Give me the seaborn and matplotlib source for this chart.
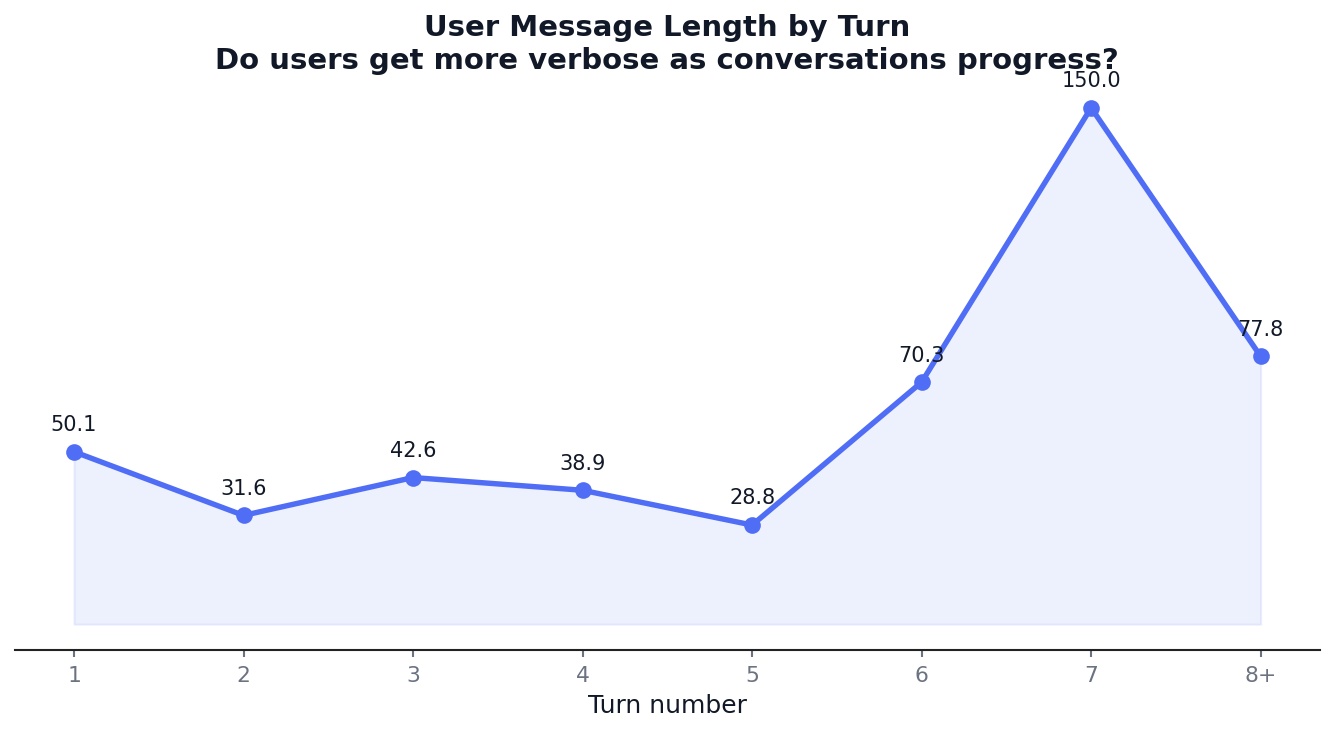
import pandas as pd
import numpy as np
import matplotlib.pyplot as plt
import seaborn as sns

# data
turns = ['1', '2', '3', '4', '5', '6', '7', '8+']
avg_length = [50.1, 31.6, 42.6, 38.9, 28.8, 70.3, 150.0, 77.8]

df = pd.DataFrame({'turn': turns, 'length': avg_length})
df['pos'] = np.arange(len(turns))

sns.set_style('white')
plt.rcParams['font.family'] = ['DejaVu Sans']

line_color = '#4F6DF5'
text_color = '#111827'

fig, ax = plt.subplots(figsize=(1334 / 150, 732 / 150), dpi=150)
fig.subplots_adjust(left=0.011, right=0.9895, bottom=0.112, top=0.888)

sns.lineplot(data=df, x='pos', y='length', ax=ax, color=line_color, linewidth=2.6,
             marker='o', markersize=8, markeredgewidth=0)
ax.fill_between(df['pos'], df['length'], 0, color=line_color, alpha=0.1)

for x, y in zip(df['pos'], df['length']):
    ax.annotate(f'{y:.1f}', (x, y), xytext=(0, 8), textcoords='offset points',
                ha='center', va='bottom', fontsize=10, color=text_color)

ax.set_xticks(df['pos'])
ax.set_xticklabels(turns)
ax.set_xlim(-0.35, 7.35)
ax.set_ylim(-7.5, 157.5)
ax.set_yticks([])
ax.set_ylabel('')
ax.set_xlabel('Turn number', fontsize=12, color=text_color, labelpad=4)
ax.tick_params(axis='x', bottom=True, colors='#6B7280', labelsize=10.5,
               length=3.5, width=1, pad=4)
for s in ['top', 'right', 'left']:
    ax.spines[s].set_visible(False)
ax.spines['bottom'].set_color('#222222')
ax.spines['bottom'].set_linewidth(1)

ax.set_title('User Message Length by Turn\nDo users get more verbose as conversations progress?',
             fontsize=14, fontweight='bold', color=text_color, pad=6, linespacing=1.25)

plt.savefig('out.png', dpi=150)
